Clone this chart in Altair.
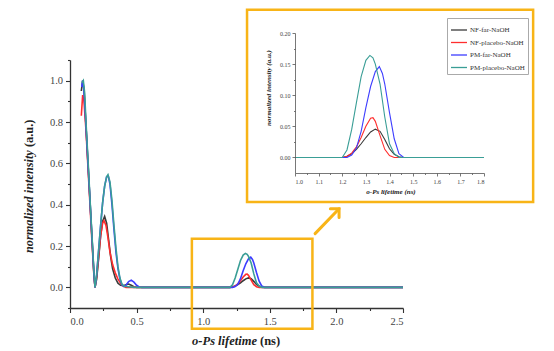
import altair as alt
import pandas as pd

# ---------------- data ----------------
series_names = ["NF-far-NaOH", "NF-placebo-NaOH", "PM-far-NaOH", "PM-placebo-NaOH"]
series_colors = ["#3a3a3a", "#ff2e2e", "#3d3dff", "#3a9e96"]

nf_far_t = [0.085, 0.095, 0.105, 0.12, 0.135, 0.15, 0.165, 0.18, 0.188, 0.2, 0.215, 0.23, 0.245, 0.26,
            0.275, 0.29, 0.305, 0.32, 0.34, 0.36, 0.38, 0.40, 0.42, 0.44, 0.46, 0.48, 0.5,
            1.0, 1.2, 1.22, 1.24, 1.26, 1.28, 1.30, 1.32, 1.34, 1.36, 1.38, 1.40, 1.42, 1.44, 1.46, 1.8, 2.5]
nf_far_i = [0.95, 1.0, 0.96, 0.78, 0.6, 0.42, 0.24, 0.06, 0.0, 0.04, 0.14, 0.25, 0.32, 0.343,
            0.31, 0.23, 0.15, 0.09, 0.045, 0.02, 0.01, 0.008, 0.012, 0.016, 0.01, 0.003, 0.0,
            0.0, 0.0, 0.002, 0.006, 0.013, 0.022, 0.032, 0.041, 0.0455, 0.042, 0.029, 0.014, 0.005, 0.001, 0.0, 0.0, 0.0]

nf_placebo_t = [0.085, 0.095, 0.105, 0.12, 0.135, 0.15, 0.165, 0.18, 0.188, 0.2, 0.215, 0.23, 0.245, 0.255,
                0.27, 0.285, 0.3, 0.32, 0.34, 0.36, 0.38, 0.40, 0.42, 0.5,
                1.0, 1.2, 1.22, 1.24, 1.26, 1.28, 1.30, 1.32, 1.33, 1.34, 1.36, 1.38, 1.40, 1.42, 1.8, 2.5]
nf_placebo_i = [0.83, 0.93, 0.9, 0.76, 0.58, 0.4, 0.22, 0.05, 0.0, 0.05, 0.15, 0.25, 0.31, 0.323,
                0.3, 0.24, 0.17, 0.11, 0.07, 0.04, 0.02, 0.006, 0.0, 0.0,
                0.0, 0.0, 0.002, 0.007, 0.017, 0.032, 0.05, 0.063, 0.064, 0.058, 0.035, 0.013, 0.003, 0.0, 0.0, 0.0]

pm_far_t = [0.088, 0.095, 0.105, 0.12, 0.135, 0.15, 0.165, 0.18, 0.188, 0.2, 0.215, 0.23, 0.245, 0.26,
            0.275, 0.287, 0.3, 0.315, 0.33, 0.345, 0.36, 0.375, 0.39, 0.405, 0.42, 0.44, 0.46, 0.48, 0.5,
            0.52, 0.54,
            1.0, 1.2, 1.22, 1.24, 1.26, 1.28, 1.30, 1.32, 1.34, 1.357, 1.37, 1.38, 1.40, 1.42, 1.44, 1.46, 1.8, 2.5]
pm_far_i = [0.97, 1.0, 0.95, 0.78, 0.6, 0.42, 0.24, 0.06, 0.0, 0.06, 0.18, 0.3, 0.41, 0.49,
            0.535, 0.54, 0.5, 0.4, 0.28, 0.17, 0.09, 0.04, 0.012, 0.004, 0.01, 0.028, 0.035, 0.025, 0.01,
            0.002, 0.0,
            0.0, 0.0, 0.0, 0.004, 0.015, 0.042, 0.08, 0.114, 0.138, 0.146, 0.135, 0.118, 0.072, 0.03, 0.006, 0.0, 0.0, 0.0]

pm_placebo_t = [0.09, 0.1, 0.11, 0.12, 0.135, 0.15, 0.165, 0.18, 0.188, 0.2, 0.215, 0.23, 0.245, 0.26,
                0.275, 0.285, 0.3, 0.315, 0.33, 0.345, 0.36, 0.375, 0.39, 0.41, 0.44, 0.48,
                1.0, 1.2, 1.22, 1.24, 1.26, 1.28, 1.30, 1.317, 1.33, 1.34, 1.36, 1.38, 1.40, 1.42, 1.44, 1.8, 2.5]
pm_placebo_i = [0.99, 1.0, 0.94, 0.8, 0.62, 0.43, 0.25, 0.07, 0.0, 0.06, 0.18, 0.3, 0.41, 0.49,
                0.535, 0.545, 0.51, 0.42, 0.3, 0.19, 0.1, 0.045, 0.015, 0.005, 0.003, 0.0,
                0.0, 0.0, 0.012, 0.045, 0.088, 0.13, 0.156, 0.164, 0.16, 0.15, 0.118, 0.065, 0.022, 0.006, 0.0, 0.0, 0.0]

# decorations (in data units)
zoom_box_t = [0.915, 1.82]
zoom_box_i = [-0.2, 0.235]
arrow_t = [1.84, 2.02]
arrow_i = [0.26, 0.38]
inset_box_t = [0.797, 2.008]
inset_box_i = [-0.0716, 0.2375]

main_x_ticks = [0.0, 0.25, 0.5, 0.75, 1.0, 1.25, 1.5, 1.75, 2.0, 2.25, 2.5]
main_y_ticks = [-0.1, 0.0, 0.1, 0.2, 0.3, 0.4, 0.5, 0.6, 0.7, 0.8, 0.9, 1.0, 1.1]
inset_x_ticks = [1.0, 1.05, 1.1, 1.15, 1.2, 1.25, 1.3, 1.35, 1.4, 1.45, 1.5, 1.55, 1.6, 1.65, 1.7, 1.75, 1.8]
inset_y_ticks = [0.0, 0.025, 0.05, 0.075, 0.1, 0.125, 0.15, 0.175, 0.2]

# ---------------- build tables ----------------
rows = []
for name, ts, vs in zip(series_names,
                        [nf_far_t, nf_placebo_t, pm_far_t, pm_placebo_t],
                        [nf_far_i, nf_placebo_i, pm_far_i, pm_placebo_i]):
    for k, (t, v) in enumerate(zip(ts, vs)):
        rows.append({"series": name, "t": t, "i": v, "k": k})
df = pd.DataFrame(rows)
df_inset = df[(df["t"] >= 1.0) & (df["t"] <= 1.8)]

FONT = "Liberation Serif"
ORANGE = "#F8B417"
W, H = 333, 248

legend = alt.Legend(orient="none", legendX=377, legendY=-42, title=None, symbolType="stroke",
                    symbolSize=256, symbolStrokeWidth=1.3, labelFontSize=7, labelFont=FONT,
                    labelColor="#333", rowPadding=0.5, padding=3, strokeColor="#aaaaaa",
                    fillColor="white", labelLimit=200, labelOffset=2, cornerRadius=0)
color = alt.Color("series:N", scale=alt.Scale(domain=series_names, range=series_colors), legend=legend)

minor_x = "abs(datum.value*2 - round(datum.value*2)) > 0.01"
minor_y = "abs(datum.value*5 - round(datum.value*5)) > 0.01"
xs = alt.Scale(domain=[0, 2.5], nice=False, zero=False)
ys = alt.Scale(domain=[-0.1, 1.1], nice=False, zero=False)
x_axis = alt.Axis(values=main_x_ticks, title=None, grid=False,
                  labelExpr=f"{minor_x} ? '' : format(datum.value, '.1f')",
                  tickSize={"condition": {"test": minor_x, "value": 2.5}, "value": 4.5},
                  labelFontSize=10.5, labelPadding=4, domainColor="#333", tickColor="#333",
                  domainWidth=1.3, tickWidth=1.1,
                  labelColor="#444", labelFont=FONT, orient="bottom")
y_axis = alt.Axis(values=main_y_ticks, title=None, grid=False,
                  labelExpr=f"{minor_y} ? '' : format(datum.value, '.1f')",
                  tickSize={"condition": {"test": minor_y, "value": 2.5}, "value": 4.5},
                  labelFontSize=10.5, labelPadding=3, domainColor="#333", tickColor="#333",
                  domainWidth=1.3, tickWidth=1.1,
                  labelColor="#444", labelFont=FONT, orient="left")

main_lines = alt.Chart(df).mark_line(strokeWidth=1.6).encode(
    x=alt.X("t:Q", scale=xs, axis=x_axis),
    y=alt.Y("i:Q", scale=ys, axis=y_axis),
    color=color, order="k:Q", detail="series:N")

zbox = alt.Chart(pd.DataFrame({"t": [zoom_box_t[0]], "t2": [zoom_box_t[1]],
                               "i": [zoom_box_i[0]], "i2": [zoom_box_i[1]]})).mark_rect(
    fill=None, fillOpacity=0, stroke=ORANGE, strokeWidth=2.5, clip=False).encode(
    x=alt.X("t:Q", scale=xs, axis=None), x2="t2:Q",
    y=alt.Y("i:Q", scale=ys, axis=None), y2="i2:Q")

arr_df = pd.DataFrame({"t": [arrow_t[0]], "t2": [arrow_t[1]], "i": [arrow_i[0]], "i2": [arrow_i[1]]})
arrow = alt.Chart(arr_df).mark_rule(color=ORANGE, strokeWidth=3, strokeCap="round").encode(
    x=alt.X("t:Q", scale=xs, axis=None), x2="t2:Q",
    y=alt.Y("i:Q", scale=ys, axis=None), y2="i2:Q")
arrow_head = alt.Chart(arr_df).mark_point(shape="M-1,1L0,0L1,1", filled=False, size=150, angle=45,
                                          color=ORANGE, strokeWidth=3, opacity=1,
                                          strokeCap="round", strokeJoin="miter").encode(
    x=alt.X("t2:Q", scale=xs, axis=None), y=alt.Y("i2:Q", scale=ys, axis=None))

txt_df = pd.DataFrame({"a": ["o-Ps lifetime"], "b": ["(ns)"], "c": ["normalized intensity"],
                       "d": ["(a.u.)"], "e": ["o-Ps lifetime (ns)"], "f": ["normalized intensity (a.u.)"]})
t1 = alt.Chart(txt_df).mark_text(font=FONT, fontSize=12.5, fontWeight="bold", fontStyle="italic",
                                 align="right", baseline="middle", color="#222").encode(
    x=alt.value(187), y=alt.value(281), text="a:N")
t2 = alt.Chart(txt_df).mark_text(font=FONT, fontSize=12.5, fontWeight="bold",
                                 align="left", baseline="middle", color="#222").encode(
    x=alt.value(190), y=alt.value(281), text="b:N")
t3 = alt.Chart(txt_df).mark_text(font=FONT, fontSize=12.3, fontWeight="bold", fontStyle="italic",
                                 align="left", baseline="middle", angle=270, color="#222").encode(
    x=alt.value(-41), y=alt.value(193), text="c:N")
t4 = alt.Chart(txt_df).mark_text(font=FONT, fontSize=12.3, fontWeight="bold",
                                 align="left", baseline="middle", angle=270, color="#222").encode(
    x=alt.value(-41), y=alt.value(87), text="d:N")

# ---------------- inset ----------------
ixs = alt.Scale(domain=[1.0, 1.8], range=[225, 414], nice=False, zero=False)
iys = alt.Scale(domain=[-0.025, 0.2], range=[113, -27], nice=False, zero=False)
minor_ix = "abs(datum.value*10 - round(datum.value*10)) > 0.01"
minor_iy = "abs(datum.value*20 - round(datum.value*20)) > 0.01"
ix_axis = alt.Axis(values=inset_x_ticks, title=None, grid=False, orient="bottom", offset=-135,
                   labelExpr=f"{minor_ix} ? '' : format(datum.value, '.1f')",
                   tickSize={"condition": {"test": minor_ix, "value": 1.5}, "value": 3},
                   labelFontSize=6, labelPadding=2, domainColor="#555", tickColor="#555",
                   labelColor="#444", labelFont=FONT, zindex=1, domainWidth=0.8, tickWidth=0.8)
iy_axis = alt.Axis(values=inset_y_ticks, title=None, grid=False, orient="left", offset=-225,
                   labelExpr=f"{minor_iy} ? '' : format(datum.value, '.2f')",
                   tickSize={"condition": {"test": minor_iy, "value": 1.5}, "value": 3},
                   labelFontSize=6, labelPadding=2, domainColor="#555", tickColor="#555",
                   labelColor="#444", labelFont=FONT, zindex=1, domainWidth=0.8, tickWidth=0.8)

ibox = alt.Chart(pd.DataFrame({"t": [inset_box_t[0]], "t2": [inset_box_t[1]],
                               "i": [inset_box_i[0]], "i2": [inset_box_i[1]]})).mark_rect(
    fill="white", stroke=ORANGE, strokeWidth=2.5, clip=False).encode(
    x=alt.X("t:Q", scale=ixs, axis=ix_axis), x2="t2:Q",
    y=alt.Y("i:Q", scale=iys, axis=iy_axis), y2="i2:Q")

inset_lines = alt.Chart(df_inset).mark_line(strokeWidth=1.1).encode(
    x=alt.X("t:Q", scale=ixs, axis=None),
    y=alt.Y("i:Q", scale=iys, axis=None),
    color=color, order="k:Q", detail="series:N")

t5 = alt.Chart(txt_df).mark_text(font=FONT, fontSize=7, fontWeight="bold", fontStyle="italic",
                                 align="center", baseline="middle", color="#222").encode(
    x=alt.value(321), y=alt.value(132), text="e:N")
t6 = alt.Chart(txt_df).mark_text(font=FONT, fontSize=7, fontWeight="bold", fontStyle="italic",
                                 align="center", baseline="middle", angle=270, color="#222").encode(
    x=alt.value(199), y=alt.value(28), text="f:N")

chart = alt.layer(main_lines, zbox, arrow, arrow_head, t1, t2, t3, t4,
                  ibox, inset_lines, t5, t6).resolve_scale(
    x="independent", y="independent").resolve_axis(x="independent", y="independent").properties(
    width=W, height=H,
    autosize=alt.AutoSizeParams(type="none"),
    padding={"left": 70, "top": 60, "right": 554 - 70 - W, "bottom": 351 - 60 - H},
    background="white",
).configure_view(strokeWidth=0, stroke="transparent").configure_axis(
    labelFont=FONT, titleFont=FONT).configure_legend(labelFont=FONT)

chart.save("out.html", embed_options={"renderer": "svg", "actions": False})
